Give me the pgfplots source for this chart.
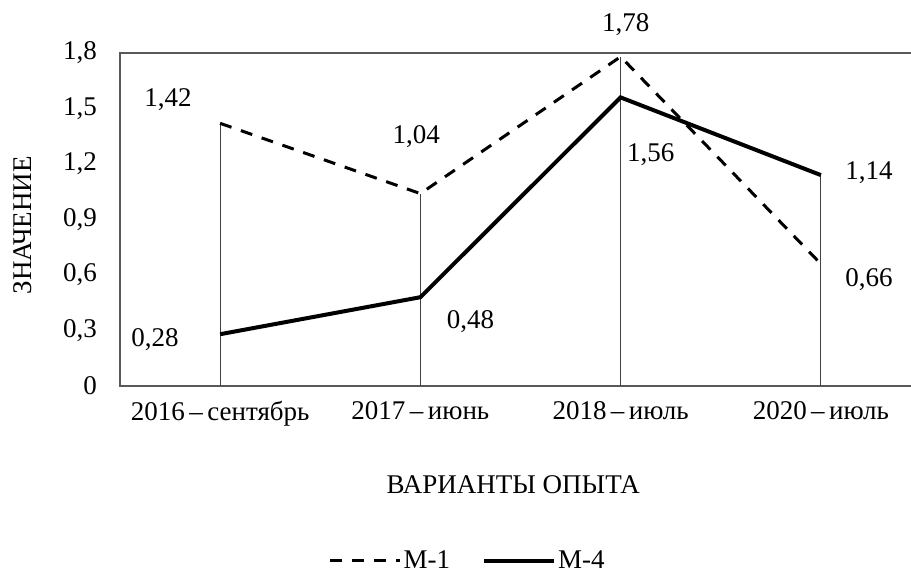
\documentclass[border=0pt]{standalone}
\usepackage{pgfplots}
\pgfplotsset{compat=1.18}
\usepackage{fontspec}
\setmainfont{Liberation Serif}
\begin{document}
\begin{tikzpicture}[font=\fontsize{13.5}{16}\selectfont]
    \begin{axis}[
        scale only axis,
        width=400.5pt,
        height=166.5pt,
        xmin=-0.5, xmax=3.5,
        ymin=0, ymax=1.8,
        axis line style={black!65, line width=0.7pt},
        xtick={0,1,2,3},
        xticklabels={2016\,--\,сентябрь, 2017\,--\,июнь, 2018\,--\,июль, 2020\,--\,июль},
        ytick={0,0.3,0.6,0.9,1.2,1.5,1.8},
        major tick length=0pt,
        /pgf/number format/assume math mode=true,
        /pgf/number format/use comma,
        /pgf/number format/fixed,
        /pgf/number format/precision=1,
        yticklabel style={anchor=east, xshift=-8pt},
        xticklabel style={yshift=-4pt},
        xlabel={ВАРИАНТЫ ОПЫТА},
        xlabel style={at={(axis description cs:0.491,-0.297)}, anchor=center},
        ylabel={ЗНАЧЕНИЕ},
        ylabel style={at={(axis description cs:-0.121,0.483)}, anchor=center},
        legend columns=2,
        legend style={
            at={(axis description cs:0.434,-0.525)}, anchor=center,
            draw=none, fill=none,
            /tikz/every even column/.append style={column sep=15pt},
            nodes={inner xsep=1pt, inner ysep=1pt}
        },
        legend image code/.code={\draw[#1] (0pt,0pt) -- (35pt,0pt);},
        clip=false
    ]
        % drop lines
        \addplot[ycomb, black!75, line width=0.6pt, forget plot] coordinates {
            (0,1.42) (1,1.04) (2,1.78) (3,1.14)
        };

        \addplot[black, line width=1.5pt, dash pattern=on 6pt off 5pt] coordinates {
            (0,1.42) (1,1.04) (2,1.78) (3,0.66)
        };
        \addlegendentry{М-1}

        \addplot[black, line width=2pt] coordinates {
            (0,0.28) (1,0.48) (2,1.56) (3,1.14)
        };
        \addlegendentry{М-4}

        \node at (axis cs:-0.26,1.546) {1,42};
        \node at (axis cs:0.98,1.346) {1,04};
        \node at (axis cs:2.025,1.951) {1,78};
        \node at (axis cs:3.24,0.573) {0,66};
        \node at (axis cs:-0.325,0.249) {0,28};
        \node at (axis cs:1.25,0.346) {0,48};
        \node at (axis cs:2.15,1.249) {1,56};
        \node at (axis cs:3.24,1.151) {1,14};
    \end{axis}
    \pgfresetboundingbox
    \path ([shift={(-60pt,-94pt)}]current axis.south west)
        rectangle ([shift={(395.5pt,193pt)}]current axis.south west);
\end{tikzpicture}
\end{document}
